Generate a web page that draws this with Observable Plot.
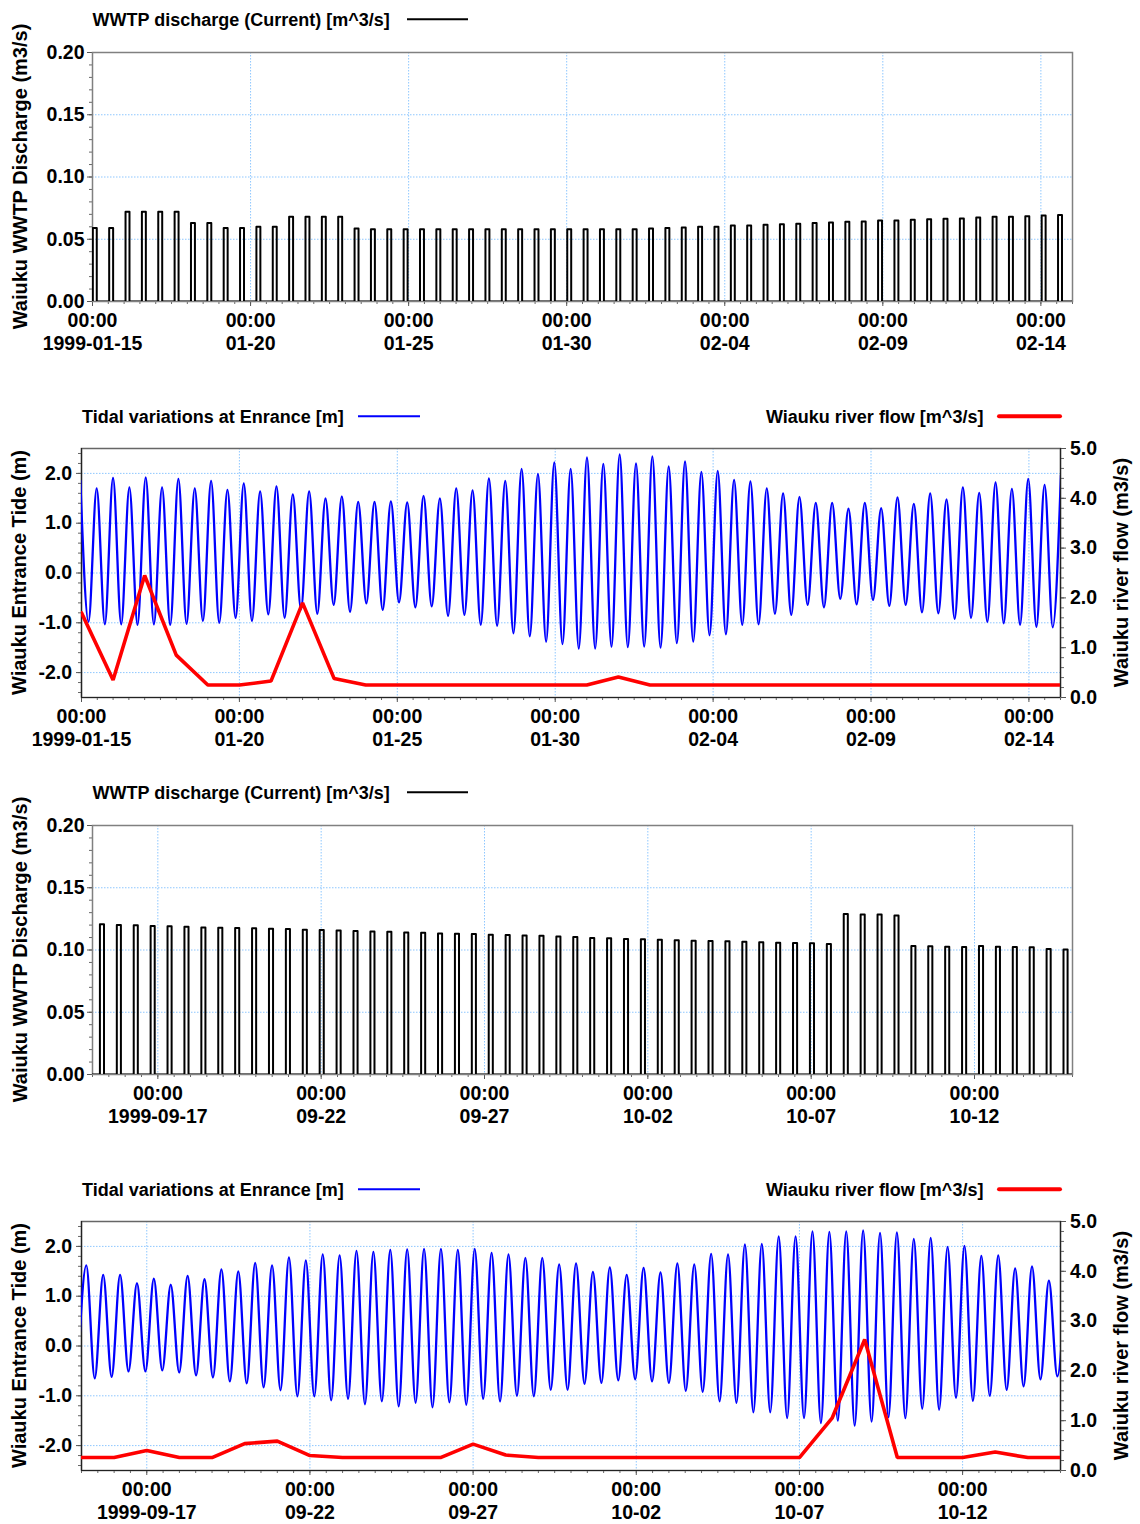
<!DOCTYPE html>
<html><head><meta charset="utf-8">
<script src="https://cdn.jsdelivr.net/npm/d3@7"></script>
<script src="https://cdn.jsdelivr.net/npm/@observablehq/plot@0.6"></script>
<style>
html,body{margin:0;padding:0;background:#fff;}
#page{position:relative;width:1140px;height:1524px;overflow:hidden;background:#fff;}
#page > svg{position:absolute;left:0;}
</style></head>
<body><div id="page"></div>
<script>
// ---------------- DATA ----------------
const janTickDates  = ["1999-01-15","1999-01-20","1999-01-25","1999-01-30","1999-02-04","1999-02-09","1999-02-14"];
const janTickLabels = ["00:00\n1999-01-15","00:00\n01-20","00:00\n01-25","00:00\n01-30","00:00\n02-04","00:00\n02-09","00:00\n02-14"];
const sepTickDates  = ["1999-09-17","1999-09-22","1999-09-27","1999-10-02","1999-10-07","1999-10-12"];
const sepTickLabels = ["00:00\n1999-09-17","00:00\n09-22","00:00\n09-27","00:00\n10-02","00:00\n10-07","00:00\n10-12"];

// WWTP discharge pulses (m3/s), one per tidal cycle
const janDischarge = [
  0.059,0.059,0.072,0.072,0.072,0.072,0.063,0.063,0.059,0.059,
  0.060,0.060,0.068,0.068,0.068,0.068,0.0586,0.058,0.058,0.058,
  0.058,0.058,0.058,0.058,0.058,0.058,0.058,0.058,0.058,0.058,
  0.058,0.058,0.058,0.058,0.0586,0.059,0.0594,0.060,0.060,0.061,
  0.061,0.0616,0.062,0.0624,0.063,0.0634,0.064,0.0643,0.065,0.065,
  0.0656,0.066,0.0664,0.0667,0.0675,0.068,0.068,0.0685,0.069,0.0694];
const sepDischarge = [
  0.1206,0.120,0.1198,0.1192,0.119,0.1187,0.118,0.1179,0.1176,0.1174,
  0.117,0.1168,0.1163,0.116,0.1157,0.1152,0.1149,0.1147,0.1141,0.1139,
  0.1133,0.113,0.1128,0.1122,0.112,0.1117,0.1114,0.1109,0.1104,0.1097,
  0.1094,0.1089,0.1086,0.1083,0.1078,0.1075,0.1073,0.107,0.1067,0.1062,
  0.1059,0.1056,0.1054,0.1048,0.129,0.1285,0.1285,0.1277,0.1032,0.103,
  0.1027,0.1024,0.1032,0.1027,0.1024,0.1022,0.1008,0.1005];

// Tide: successive high and low waters (m)
const janTideHighs = [1.85,
  1.70,1.91,1.72,1.92,1.72,1.89,1.70,1.85,1.67,1.80,
  1.64,1.74,1.58,1.64,1.50,1.54,1.43,1.43,1.44,1.42,
  1.55,1.50,1.70,1.66,1.90,1.85,2.09,1.99,2.22,2.09,
  2.32,2.19,2.38,2.20,2.34,2.14,2.24,2.03,2.05,1.87,
  1.84,1.70,1.60,1.53,1.41,1.41,1.29,1.41,1.30,1.52,
  1.39,1.60,1.48,1.72,1.61,1.82,1.69,1.89,1.77,1.96];
const janTideLows = [
  -0.98,-1.03,-1.03,-1.04,-1.03,-1.04,-1.02,-0.96,-1.00,-0.90,
  -0.96,-0.83,-0.90,-0.73,-0.82,-0.64,-0.78,-0.61,-0.74,-0.59,
  -0.69,-0.67,-0.86,-0.84,-1.04,-1.06,-1.21,-1.27,-1.38,-1.43,
  -1.52,-1.52,-1.48,-1.49,-1.48,-1.50,-1.41,-1.38,-1.25,-1.23,
  -1.04,-1.03,-0.82,-0.84,-0.64,-0.69,-0.52,-0.63,-0.54,-0.66,
  -0.64,-0.79,-0.81,-0.92,-0.90,-0.98,-1.01,-1.04,-1.08,-1.09];
const sepTideLows = [-0.45,
  -0.65,-0.62,-0.51,-0.51,-0.49,-0.53,-0.59,-0.63,-0.71,-0.75,
  -0.83,-0.89,-1.01,-1.01,-1.09,-1.06,-1.17,-1.11,-1.21,-1.14,
  -1.23,-1.13,-1.18,-1.06,-1.11,-1.00,-1.01,-0.88,-0.88,-0.76,
  -0.74,-0.69,-0.67,-0.71,-0.74,-0.90,-0.92,-1.11,-1.14,-1.33,
  -1.33,-1.45,-1.45,-1.55,-1.50,-1.60,-1.52,-1.43,-1.45,-1.26,
  -1.28,-1.04,-1.10,-1.00,-0.88,-0.81,-0.67,-0.61];
const sepTideHighs = [
  1.62,1.43,1.43,1.26,1.35,1.23,1.41,1.34,1.54,1.50,
  1.67,1.62,1.78,1.72,1.84,1.82,1.91,1.89,1.93,1.94,
  1.95,1.95,1.93,1.95,1.87,1.84,1.77,1.77,1.64,1.66,
  1.49,1.58,1.43,1.57,1.48,1.66,1.64,1.85,1.84,2.04,
  2.05,2.20,2.20,2.30,2.29,2.30,2.32,2.27,2.28,2.15,
  2.17,1.99,2.01,1.81,1.82,1.56,1.60,1.31,1.50];

// Daily river flow (m3/s)
const janRiverFlow = [1.70,0.35,2.45,0.85,0.25,0.25,0.33,1.90,0.38,0.25,0.25,0.25,0.25,0.25,0.25,0.25,0.25,
  0.41,0.25,0.25,0.25,0.25,0.25,0.25,0.25,0.25,0.25,0.25,0.25,0.25,0.25,0.25];
const sepRiverFlow = [0.26,0.26,0.40,0.26,0.26,0.54,0.59,0.30,0.26,0.26,0.26,0.26,0.53,0.31,0.26,0.26,
  0.26,0.26,0.26,0.26,0.26,0.26,0.26,1.05,2.63,0.26,0.26,0.26,0.37,0.26,0.26];

// timing of the series (days)
const DAY = 86400000;
const TIDE_PERIOD = 0.5175;      // semidiurnal cycle
const PULSE_WIDTH = 0.125;       // pulse duration
const janStart = Date.UTC(1999,0,15), janEnd = Date.UTC(1999,1,15);
const sepStart = Date.UTC(1999,8,15), sepEnd = Date.UTC(1999,9,15);
const FLOW_SHIFT = 2.5;          // right axis (0..5) vs left axis (-2.5..2.5)

// ---------------- BUILD SERIES ----------------
function pulseSeries(start, end, firstOffset, values) {
  const pts = [{t: new Date(start), v: 0}];
  values.forEach((v, i) => {
    const t0 = start + (firstOffset + i * TIDE_PERIOD) * DAY;
    const t1 = t0 + PULSE_WIDTH * DAY;
    pts.push({t: new Date(t0), v: 0}, {t: new Date(t0), v}, {t: new Date(t1), v}, {t: new Date(t1), v: 0});
  });
  pts.push({t: new Date(end), v: 0});
  return pts;
}
function tideSeries(start, firstOffset, first, second) {
  const pts = [];
  const n = first.length + second.length;
  for (let k = 0; k < n; k++) {
    const v = k % 2 === 0 ? first[k / 2] : second[(k - 1) / 2];
    pts.push({t: new Date(start + (firstOffset + k * TIDE_PERIOD / 2) * DAY), v});
  }
  return pts;
}
function dailySeries(start, values) {
  return values.map((v, i) => ({t: new Date(start + i * DAY), v}));
}

const FONT = "'Liberation Sans', Arial, Helvetica, sans-serif";
const GRID = "#8ec7ff";
const page = document.getElementById("page");

function baseStyle() {
  return {fontFamily: FONT, fontSize: "19.5px", fontWeight: "bold", color: "#000", background: "transparent", overflow: "visible"};
}
function xAxes(start, end, tickDates, tickLabels) {
  const x0 = new Date(start);
  const ticks = tickDates.map(s => new Date(s + "T00:00:00Z"));
  const minorX = d3.utcHour.every(12).range(x0, new Date(end + 1));
  return {ticks, marks: [
    Plot.axisX(minorX, {tickSize: 3, fill: "none", label: null, stroke: "#666"}),
    Plot.axisX(ticks, {tickSize: 5, tickPadding: 5, label: null, stroke: "#555", lineHeight: 1.14,
      tickFormat: d => tickLabels[ticks.findIndex(t => +t === +d)]})
  ]};
}

function dischargePanel(top, start, end, tickDates, tickLabels, pulses) {
  const xa = xAxes(start, end, tickDates, tickLabels);
  const svg = Plot.plot({
    width: 1140, height: 380, marginTop: 52, marginBottom: 79, marginLeft: 92, marginRight: 68,
    style: baseStyle(),
    x: {type: "utc", domain: [new Date(start), new Date(end)]},
    y: {type: "linear", domain: [0, 0.2]},
    marks: [
      Plot.gridX(xa.ticks, {stroke: GRID, strokeOpacity: 1, strokeDasharray: "1.5,1.5"}),
      Plot.gridY([0.05, 0.1, 0.15], {stroke: GRID, strokeOpacity: 1, strokeDasharray: "1.5,1.5"}),
      Plot.axisY(d3.range(0, 21).map(i => i / 100), {tickSize: 3, fill: "none", label: null, stroke: "#666"}),
      Plot.axisY([0, 0.05, 0.1, 0.15, 0.2], {tickSize: 5, tickPadding: 3, label: null, stroke: "#555", tickFormat: d => d.toFixed(2)}),
      ...xa.marks,
      Plot.frame({stroke: "#808080", strokeWidth: 1.5}),
      Plot.line(pulses, {x: "t", y: "v", stroke: "#000", strokeWidth: 2, clip: true})
    ]
  });
  svg.style.top = top + "px";
  page.appendChild(svg);
}

function tidePanel(top, height, marginBottom, start, end, tickDates, tickLabels, tide, flow) {
  const xa = xAxes(start, end, tickDates, tickLabels);
  const svg = Plot.plot({
    width: 1140, height, marginTop: 68, marginBottom, marginLeft: 81, marginRight: 80,
    style: baseStyle(),
    x: {type: "utc", domain: [new Date(start), new Date(end)]},
    y: {type: "linear", domain: [-2.5, 2.5]},
    marks: [
      Plot.gridX(xa.ticks, {stroke: GRID, strokeOpacity: 1, strokeDasharray: "1.5,1.5"}),
      Plot.gridY([-2, -1, 0, 1, 2], {stroke: GRID, strokeOpacity: 1, strokeDasharray: "1.5,1.5"}),
      Plot.axisY(d3.range(-12, 13).map(i => i * 0.2), {tickSize: 3, fill: "none", label: null, stroke: "#666"}),
      Plot.axisY([-2, -1, 0, 1, 2], {tickSize: 5, tickPadding: 4.5, label: null, stroke: "#555", tickFormat: d => d.toFixed(1)}),
      Plot.axisY(d3.range(0, 26).map(i => i * 0.2 - FLOW_SHIFT), {anchor: "right", tickSize: 3, fill: "none", label: null, stroke: "#666"}),
      Plot.axisY([0, 1, 2, 3, 4, 5].map(f => f - FLOW_SHIFT), {anchor: "right", tickSize: 5, tickPadding: 4.5, label: null, stroke: "#555",
        tickFormat: d => (d + FLOW_SHIFT).toFixed(1)}),
      ...xa.marks,
      Plot.frame({stroke: "#666", strokeWidth: 1.5}),
      Plot.ruleX([new Date(start), new Date(end)], {stroke: "#222", strokeWidth: 1.2}),
      Plot.ruleY([-2.5], {stroke: "#222", strokeWidth: 1.2}),
      Plot.line(tide, {x: "t", y: "v", stroke: "#0000ff", strokeWidth: 2.3, curve: "monotone-x", clip: true}),
      Plot.line(flow, {x: "t", y: d => d.v - FLOW_SHIFT, stroke: "#ff0000", strokeWidth: 3.6, strokeLinejoin: "miter", clip: true})
    ]
  });
  svg.style.top = top + "px";
  page.appendChild(svg);
}

dischargePanel(0, janStart, janEnd, janTickDates, janTickLabels, pulseSeries(janStart, janEnd, 0.01, janDischarge));
tidePanel(380, 393, 76, janStart, janEnd, janTickDates, janTickLabels,
  tideSeries(janStart, -0.0365, janTideHighs, janTideLows), dailySeries(janStart, janRiverFlow));
dischargePanel(773, sepStart, sepEnd, sepTickDates, sepTickLabels, pulseSeries(sepStart, sepEnd, 0.227, sepDischarge));
tidePanel(1153, 371, 54, sepStart, sepEnd, sepTickDates, sepTickLabels,
  tideSeries(sepStart, -0.1118, sepTideLows, sepTideHighs), dailySeries(sepStart, sepRiverFlow));

// ---------------- LEGENDS & AXIS TITLES ----------------
const ov = d3.create("svg").attr("width", 1140).attr("height", 1524)
  .style("top", "0px").style("pointer-events", "none")
  .style("font-family", FONT).style("font-weight", "bold");
function legend(x, baseline, label, x1, x2, color, w) {
  ov.append("text").attr("x", x).attr("y", baseline).attr("font-size", 18).attr("fill", "#000").text(label);
  ov.append("line").attr("x1", x1).attr("x2", x2).attr("y1", baseline - 6.5).attr("y2", baseline - 6.5)
    .attr("stroke", color).attr("stroke-width", w).attr("stroke-linecap", w > 3 ? "round" : "butt");
}
function vtitle(xBase, cy, label) {
  ov.append("text").attr("transform", `translate(${xBase},${cy}) rotate(-90)`).attr("text-anchor", "middle")
    .attr("font-size", 20).attr("fill", "#000").text(label);
}
[0, 773].forEach(off => {
  legend(92.5, 25.8 + off, "WWTP discharge (Current) [m^3/s]", 407, 468, "#000", 2);
  vtitle(27.3, 176.5 + off, "Waiuku WWTP Discharge (m3/s)");
  legend(82, 422.7 + off, "Tidal variations at Enrance [m]", 358, 420, "#0000ff", 2);
  legend(766, 422.7 + off, "Wiauku river flow [m^3/s]", 999, 1060, "#ff0000", 4);
  vtitle(25.5, 572.5 + off, "Wiauku Entrance Tide (m)");
  vtitle(1127.5, 572.5 + off, "Waiuku river flow (m3/s)");
});
page.appendChild(ov.node());
</script>
</body></html>
